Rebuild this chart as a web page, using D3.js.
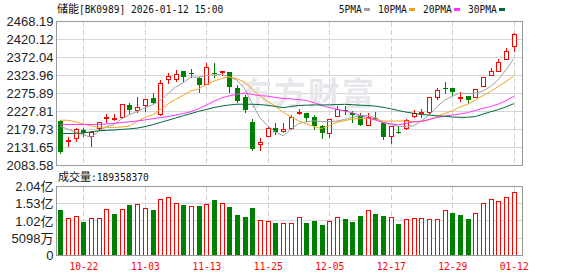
<!DOCTYPE html>
<html>
<head>
<meta charset="utf-8">
<script src="https://cdn.jsdelivr.net/npm/d3@7"></script>
<style>
  body { margin: 0; background: #fff; }
  svg { display: block; }
</style>
</head>
<body>
<svg></svg>
<script>
// Trading days (MM-DD)
const dates = ["10-17","10-20","10-21","10-22","10-23","10-24","10-27","10-28","10-29","10-30","10-31",
  "11-03","11-04","11-05","11-06","11-07","11-10","11-11","11-12","11-13","11-14","11-17","11-18","11-19","11-20","11-21","11-24","11-25","11-26","11-27","11-28",
  "12-01","12-02","12-03","12-04","12-05","12-08","12-09","12-10","12-11","12-12","12-15","12-16","12-17","12-18","12-19","12-22","12-23","12-24","12-25","12-26","12-29","12-30","12-31",
  "01-05","01-06","01-07","01-08","01-09","01-12"];

const open = [2201.7,2148.0,2157.8,2176.6,2163.2,2182.0,2210.6,2207.9,2211.5,2243.7,
  2229.4,2246.4,2264.3,2219.6,2312.6,2313.5,2335.9,2329.6,2318.0,2301.0,
  2331.4,2331.4,2332.3,2290.2,2265.2,2198.1,2141.7,2163.2,2184.6,2173.9,
  2181.1,2223.1,2222.3,2211.5,2188.2,2170.4,2216.0,2231.2,2222.3,2218.7,
  2190.9,2209.5,2196.3,2160.5,2173.9,2182.0,2214.2,2224.9,2224.9,2265.2,
  2290.2,2289.3,2265.2,2267.9,2267.0,2297.4,2326.9,2336.8,2369.0,2401.2];
const high = [2204.3,2159.6,2184.6,2182.0,2174.5,2199.0,2219.6,2219.6,2247.0,2249.1,
  2265.2,2262.0,2276.8,2310.8,2329.6,2338.6,2336.5,2340.3,2320.6,2356.4,
  2356.4,2335.5,2334.1,2298.3,2271.4,2206.1,2157.8,2185.0,2195.4,2195.4,
  2216.9,2233.0,2222.5,2217.8,2190.0,2208.5,2241.0,2241.9,2229.4,2222.3,
  2222.3,2226.0,2197.0,2189.0,2188.2,2206.1,2231.2,2234.8,2266.0,2289.3,
  2306.3,2290.0,2279.5,2268.5,2289.0,2321.0,2343.9,2367.2,2396.7,2438.8];
const low = [2117.5,2135.4,2148.9,2161.4,2135.4,2181.0,2199.9,2203.4,2210.0,2222.3,
  2226.7,2229.4,2249.1,2217.8,2304.6,2309.9,2309.9,2320.6,2279.5,2300.1,
  2320.6,2325.1,2280.4,2254.0,2226.7,2125.0,2125.6,2162.0,2166.7,2173.0,
  2180.0,2222.0,2202.5,2181.1,2157.8,2159.6,2215.0,2220.5,2198.1,2192.0,
  2190.0,2207.0,2152.5,2143.5,2171.0,2180.2,2214.0,2213.3,2224.0,2259.8,
  2275.9,2271.4,2256.2,2249.1,2266.0,2297.0,2326.0,2336.0,2367.2,2390.4];
const close = [2119.3,2150.7,2181.1,2167.6,2173.9,2198.1,2212.4,2209.7,2246.4,2229.4,
  2238.3,2261.6,2250.9,2302.8,2321.5,2327.8,2320.6,2327.8,2300.1,2345.7,
  2329.6,2335.0,2291.1,2255.3,2231.2,2125.6,2147.1,2184.6,2174.8,2179.3,
  2211.5,2225.8,2208.0,2188.2,2170.4,2208.0,2234.8,2229.4,2216.0,2192.7,
  2211.5,2208.5,2159.6,2188.2,2172.1,2204.3,2222.3,2226.7,2265.2,2284.0,
  2288.4,2279.5,2267.0,2258.0,2288.4,2320.6,2336.8,2360.9,2390.4,2434.3];
const volume = [134400000,109600000,116500000,98600000,109600000,109600000,136500000,122500000,136500000,149300000,
  151400000,139500000,134400000,166400000,172300000,154400000,149300000,145500000,146400000,151400000,
  164300000,154400000,143400000,119500000,113500000,140400000,103600000,100600000,95600000,95600000,
  95600000,112600000,95600000,101600000,89600000,100600000,112600000,107500000,98600000,116500000,
  133500000,122500000,116500000,112600000,92600000,106600000,109600000,109600000,106600000,106600000,
  133500000,125400000,119500000,107500000,124500000,154400000,166400000,160400000,172300000,189358370];

// moving average values before enough closes exist
const ma5Head = [2188, 2180, 2172, 2165];
const ma10Head = [2204.3, 2204, 2200, 2194, 2189, 2185.5, 2185, 2185, 2186];
const ma20Head = [2192.8, 2192.8, 2192.8, 2192.8, 2192.8, 2193, 2194, 2196, 2198, 2200,
  2202, 2205, 2208, 2211, 2214, 2218, 2222, 2227, 2235];
const ma30Head = [2168.5, 2168.5, 2169, 2170, 2173, 2176, 2177, 2178, 2179.5, 2181,
  2183, 2187, 2192, 2198, 2204, 2210, 2216, 2222, 2228, 2233,
  2238, 2242, 2245, 2247, 2247, 2247, 2246, 2244, 2241];

// Tick labels
const priceTicks = [2083.58, 2131.65, 2179.73, 2227.81, 2275.89, 2323.96, 2372.04, 2420.12, 2468.19];
const volTicks = [0, 50980000, 101960000, 152940000, 203920000];
const volTickLabels = ["0", "5098万", "1.02亿", "1.53亿", "2.04亿"];
const dateTicks = ["10-22","11-03","11-13","11-25","12-05","12-17","12-29","01-12"];
const maNames = ["5PMA", "10PMA", "20PMA", "30PMA"];

const maColors = ["#a0a0a0", "#f5a31a", "#ff33ff", "#00693a"];
const upColor = "#ff0000";
const downColor = "#008000";
const monoFont = "'DejaVu Sans Mono', 'Noto Sans CJK SC', monospace";

// pane geometry
const left = 56.5, right = 522.5;
const priceTop = 21.7, priceBottom = 165.2;
const volTop = 186.7, volBottom = 255.2;

const svg = d3.select('svg').
attr('width', 578).
attr('height', 276).
attr('font-family', 'Liberation Sans, Arial, sans-serif');

// Scales
const x = d3.scaleBand().
domain(dates).
range([56.46, 517.56]).
paddingInner(0.35).
paddingOuter(0.175);
const cx = d => Math.round(x(d) + x.bandwidth() / 2) + 0.5;

const y = d3.scaleLinear().
domain([priceTicks[0], priceTicks[priceTicks.length - 1]]).
range([priceBottom, priceTop]);

const yv = d3.scaleLinear().
domain([0, volTicks[volTicks.length - 1]]).
range([volBottom, volTop]);

const crisp = v => Math.round(v - 0.5) + 0.5;

// Grid lines
const grid = svg.append('g').attr('class', 'grid').attr('shape-rendering', 'crispEdges');

grid.selectAll('.hp').
data(priceTicks).
enter().append('line').
attr('x1', left).attr('x2', right).
attr('y1', d => crisp(y(d))).attr('y2', d => crisp(y(d))).
attr('stroke', '#d6d6d6');

grid.selectAll('.hv').
data(volTicks).
enter().append('line').
attr('x1', left).attr('x2', right).
attr('y1', d => crisp(yv(d))).attr('y2', d => crisp(yv(d))).
attr('stroke', '#d6d6d6');

[[priceTop, priceBottom], [volTop, volBottom]].forEach(([t, b]) => {
  grid.append('g').
  selectAll('line').
  data(dateTicks).
  enter().append('line').
  attr('x1', d => cx(d)).attr('x2', d => cx(d)).
  attr('y1', crisp(t)).attr('y2', crisp(b)).
  attr('stroke', '#cfcfcf').
  attr('stroke-dasharray', '5,3');
});

// Watermark
svg.append('text').
attr('x', 240).
attr('y', 105).
attr('font-family', "'Noto Sans CJK SC', sans-serif").
attr('font-size', 32).
attr('font-weight', 'bold').
attr('letter-spacing', 2).
attr('fill', '#e7e7eb').
text('东方财富');

// Candles
const candles = svg.append('g').
attr('class', 'candles').
attr('shape-rendering', 'crispEdges').
selectAll('g').
data(dates).
enter().append('g');

candles.append('line').
attr('x1', d => cx(d)).attr('x2', d => cx(d)).
attr('y1', (d, i) => Math.round(y(high[i]))).
attr('y2', (d, i) => Math.round(y(low[i])) + 1).
attr('stroke', (d, i) => close[i] >= open[i] ? upColor : downColor);

candles.append('rect').
attr('x', (d, i) => close[i] >= open[i] ? cx(d) - 2 : cx(d) - 2.5).
attr('width', (d, i) => close[i] >= open[i] ? 4 : 5).
attr('y', (d, i) => {
  const top = Math.round(y(Math.max(open[i], close[i])));
  return close[i] >= open[i] ? top + 0.5 : top;
}).
attr('height', (d, i) => Math.max(1, Math.round(Math.abs(y(open[i]) - y(close[i]))))).
attr('fill', (d, i) => close[i] >= open[i] ? '#fff' : downColor).
attr('stroke', (d, i) => close[i] >= open[i] ? upColor : 'none');

// Moving averages
function movingAvg(n, head) {
  return close.map((c, i) => i < head.length ? head[i] : d3.mean(close.slice(i - n + 1, i + 1)));
}
const maSeries = [movingAvg(5, ma5Head), movingAvg(10, ma10Head), movingAvg(20, ma20Head), movingAvg(30, ma30Head)];

const line = d3.line().
x((d, i) => x(dates[i]) + x.bandwidth() / 2).
y(d => y(d));

svg.append('g').
attr('class', 'ma').
selectAll('path').
data(maSeries).
enter().append('path').
attr('d', line).
attr('fill', 'none').
attr('stroke', (d, i) => maColors[i]).
attr('stroke-width', 1);

// Volume bars (colour by close vs previous close)
const volUp = i => i === 0 ? close[0] >= open[0] : close[i] >= close[i - 1];

svg.append('g').
attr('class', 'volume').
attr('shape-rendering', 'crispEdges').
selectAll('rect').
data(volume).
enter().append('rect').
attr('x', (d, i) => volUp(i) ? cx(dates[i]) - 2 : cx(dates[i]) - 2.5).
attr('width', (d, i) => volUp(i) ? 4 : 5).
attr('y', (d, i) => volUp(i) ? Math.round(yv(d)) + 0.5 : Math.round(yv(d))).
attr('height', (d, i) => Math.round(volBottom) - Math.round(yv(d)) - (volUp(i) ? 0.5 : 0)).
attr('fill', (d, i) => volUp(i) ? '#fff' : downColor).
attr('stroke', (d, i) => volUp(i) ? upColor : 'none');

// Pane frames
[[priceTop, priceBottom], [volTop, volBottom]].forEach(([t, b]) => {
  svg.append('rect').
  attr('x', left).
  attr('y', crisp(t)).
  attr('width', right - left).
  attr('height', crisp(b) - crisp(t)).
  attr('fill', 'none').
  attr('stroke', '#999').
  attr('shape-rendering', 'crispEdges');
});

// Y axes
const yAxis = d3.axisLeft(y).
tickValues(priceTicks).
tickSize(0).
tickPadding(3).
tickFormat(d => d.toFixed(2));

svg.append('g').
attr('class', 'axis y').
attr('transform', `translate(${left}, 0)`).
call(yAxis).
call(g => g.select('.domain').remove()).
selectAll('text').
attr('font-family', 'Liberation Sans, Arial, sans-serif').
attr('font-size', 13).
attr('fill', '#222');

const vAxis = d3.axisLeft(yv).
tickValues(volTicks).
tickSize(0).
tickPadding(3).
tickFormat((d, i) => volTickLabels[i]);

svg.append('g').
attr('class', 'axis v').
attr('transform', `translate(${left}, 0)`).
call(vAxis).
call(g => g.select('.domain').remove()).
selectAll('text').
attr('font-family', "Liberation Sans, Arial, 'Noto Sans CJK SC', sans-serif").
attr('font-size', 13).
attr('fill', '#222');

// X axis (dates)
const xAxis = d3.axisBottom(x).
tickValues(dateTicks).
tickSize(0);

svg.append('g').
attr('class', 'axis x').
attr('transform', `translate(0.5, 256)`).
call(xAxis).
call(g => g.select('.domain').remove()).
selectAll('text').
attr('y', 14).
attr('dy', 0).
attr('font-family', monoFont).
attr('font-size', 9.6).
attr('fill', upColor);

// Title
const title = svg.append('text').
attr('x', 57).
attr('y', 12.5).
attr('fill', '#111');
title.append('tspan').
attr('font-family', "'Noto Sans CJK SC', sans-serif").
attr('font-size', 11).
text('储能');
title.append('tspan').
attr('font-family', monoFont).
attr('font-size', 9.6).
text('[BK0989] 2026-01-12 15:00');

// Volume caption
const vcap = svg.append('text').
attr('x', 58).
attr('y', 181).
attr('fill', '#111');
vcap.append('tspan').
attr('font-family', "'Noto Sans CJK SC', sans-serif").
attr('font-size', 11).
text('成交量');
vcap.append('tspan').
attr('font-family', monoFont).
attr('font-size', 9.6).
text(':' + volume[volume.length - 1]);

// Legend
const legend = svg.append('g').attr('class', 'legend');
let lx = 338.7;
maNames.forEach((name, i) => {
  const t = legend.append('text').
  attr('x', lx).
  attr('y', 12.5).
  attr('font-family', monoFont).
  attr('font-size', 9.6).
  attr('fill', '#111').
  text(name);
  const w = t.node().getComputedTextLength();
  legend.append('rect').
  attr('x', Math.round(lx + w + 2)).
  attr('y', 8).
  attr('width', 6).
  attr('height', 3).
  attr('fill', maColors[i]);
  lx = Math.round(lx + w + 2) + 6 + 8;
});
</script>
</body>
</html>
